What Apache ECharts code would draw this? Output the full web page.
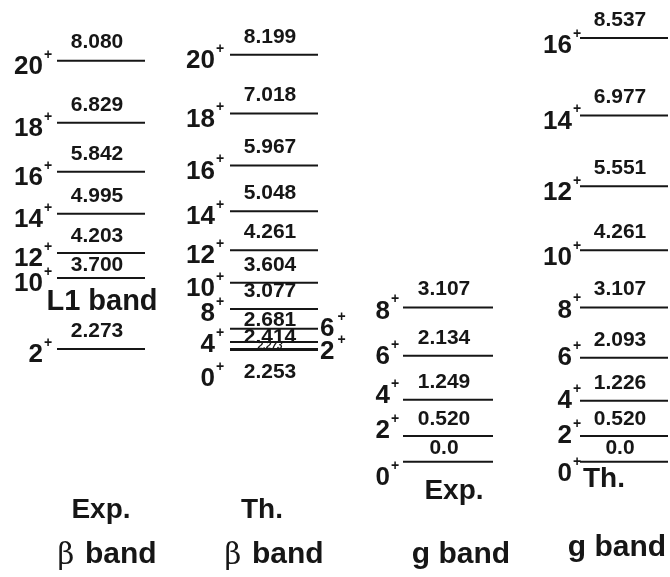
<!DOCTYPE html>
<html>
<head>
<meta charset="utf-8">
<script src="https://cdn.jsdelivr.net/npm/echarts@6/dist/echarts.min.js"></script>
<style>
html,body{margin:0;padding:0;background:#fff;}
#c{width:670px;height:577px;}
</style>
</head>
<body>
<div id="c"></div>
<script>
// ---- Data (energies in MeV) ----
const expBetaSpins    = ['20','18','16','14','12','10','2'];
const expBetaEnergies = [8.080, 6.829, 5.842, 4.995, 4.203, 3.700, 2.273];

const thBetaSpins     = ['20','18','16','14','12','10','8','6','4','2','0'];
const thBetaEnergies  = [8.199, 7.018, 5.967, 5.048, 4.261, 3.604, 3.077, 2.681, 2.414, 2.273, 2.253];

const expGSpins       = ['8','6','4','2','0'];
const expGEnergies    = [3.107, 2.134, 1.249, 0.520, 0.0];

const thGSpins        = ['16','14','12','10','8','6','4','2','0'];
const thGEnergies     = [8.537, 6.977, 5.551, 4.261, 3.107, 2.093, 1.226, 0.520, 0.0];

const columnTitles = ['Exp.', 'Th.', 'Exp.', 'Th.'];
const bandNames    = ['band', 'band', 'g band', 'g band'];

// ---- Layout (pixel positions, styles) ----
const FONT = '"Liberation Sans", Arial, sans-serif';
const INK = '#161616';
const columns = [
  {x0: 57,  x1: 145, gap: 14},
  {x0: 230, x1: 318, gap: 15},
  {x0: 403, x1: 493, gap: 13},
  {x0: 580, x1: 668, gap: 8}
];
// vertical offsets (px) of the spin labels relative to their level line
const spinShift = [
  [6, 6, 6, 6, 6, 6, 6],
  [6, 6, 6, 6, 6, 6, 5, 0, 3, 3, 29],
  [4, 1, -4, -5, 16],
  [8, 6, 7, 8, 3, 0, 0, 0, 12]
];
// special label placement for crowded levels: [series-index]
const tweaks = {
  '0-4': {eOff: -17},
  '0-5': {eOff: -12.5},
  '1-7': {eOff: -8, spinRight: true},
  '1-8': {eOff: -5},
  '1-9': {eOff: -2.5, eSize: 10, italic: true, spinRight: true},
  '1-10': {eOff: 22},
  '2-3': {eOff: -16.5},
  '2-4': {eOff: -13.5},
  '3-7': {eOff: -16.5},
  '3-8': {eOff: -13.5}
};

const bands = [
  {spins: expBetaSpins, energies: expBetaEnergies},
  {spins: thBetaSpins,  energies: thBetaEnergies},
  {spins: expGSpins,    energies: expGEnergies},
  {spins: thGSpins,     energies: thGEnergies}
];

function fmt(v){ return v === 0 ? '0.0' : v.toFixed(3); }

function makeRender(si){
  const col = columns[si];
  const band = bands[si];
  return function(params, api){
    const i = api.value(0);
    const e = api.value(1);
    const p1 = api.coord([col.x0, e]);
    const p2 = api.coord([col.x1, e]);
    const y = p1[1];
    const tw = tweaks[si + '-' + i] || {};
    const eOff = tw.eOff !== undefined ? tw.eOff : -18;
    const spinOff = spinShift[si][i];
    const children = [
      {type:'line', shape:{x1:p1[0], y1:y, x2:p2[0], y2:y},
       style:{stroke:INK, lineWidth:2}},
      {type:'text', x:(p1[0]+p2[0])/2 - 4, y: y + eOff,
       style:{text: fmt(e), font: (tw.italic?'italic ':'') + 'bold ' + (tw.eSize||21) + 'px ' + FONT,
              fill: INK, align:'center', verticalAlign:'middle'}}
    ];
    const spin = band.spins[i];
    if (tw.spinRight) {
      children.push({type:'text', x:p2[0] + 2, y: y + spinOff,
        style:{text: spin, font:'bold 26px ' + FONT, fill:INK, align:'left', verticalAlign:'middle'}});
      children.push({type:'text', x:p2[0] + 2 + 14.5*spin.length + 3, y: y + spinOff - 12,
        style:{text:'+', font:'bold 14px ' + FONT, fill:INK, align:'left', verticalAlign:'middle'}});
    } else {
      const xr = p1[0] - col.gap;
      children.push({type:'text', x:xr, y: y + spinOff,
        style:{text: spin, font:'bold 26px ' + FONT, fill:INK, align:'right', verticalAlign:'middle'}});
      children.push({type:'text', x:xr + 1, y: y + spinOff - 12,
        style:{text:'+', font:'bold 14px ' + FONT, fill:INK, align:'left', verticalAlign:'middle'}});
    }
    return {type:'group', children};
  };
}

const series = bands.map((b, si) => ({
  type:'custom',
  renderItem: makeRender(si),
  data: b.energies.map((e, i) => [i, e]),
  encode: {x: 0, y: 1},
  clip: false,
  silent: true
}));

const titleX = [101, 262, 454, 604];
const titleY = [510, 510, 491, 479];
const bandX  = [107, 274, 461, 617];
const bandY  = [555, 555, 555, 548];
const graphic = [];
columnTitles.forEach((t, k) => {
  graphic.push({type:'text', x: titleX[k], y: titleY[k], style:{
    text: t, font:'bold 28px ' + FONT, fill:INK, align:'center', verticalAlign:'middle'}});
});
bandNames.forEach((t, k) => {
  if (k < 2) {
    graphic.push({type:'text', x: bandX[k] - 41, y: bandY[k] + 1, style:{
      text: 'β', font:'29px "DejaVu Serif", serif', fill:INK, align:'center', verticalAlign:'middle'}});
    graphic.push({type:'text', x: bandX[k] - 22, y: bandY[k], style:{
      text: t, font:'bold 30px ' + FONT, fill:INK, align:'left', verticalAlign:'middle'}});
  } else {
    graphic.push({type:'text', x: bandX[k], y: bandY[k], style:{
      text: t, font:'bold 30px ' + FONT, fill:INK, align:'center', verticalAlign:'middle'}});
  }
});
graphic.push({type:'text', x: 102, y: 302, style:{
  text:'L1 band', font:'bold 29px ' + FONT, fill:INK, align:'center', verticalAlign:'middle'}});

const chart = echarts.init(document.getElementById('c'), null, {renderer:'canvas'});
chart.setOption({
  animation: false,
  backgroundColor: '#fff',
  grid: {left: 0, right: 0, top: 15, bottom: 16},
  xAxis: {type:'value', min: 0, max: 670, show: false},
  yAxis: {type:'value', min: -2, max: 9, show: false},
  graphic: graphic,
  series: series
});
</script>
</body>
</html>
